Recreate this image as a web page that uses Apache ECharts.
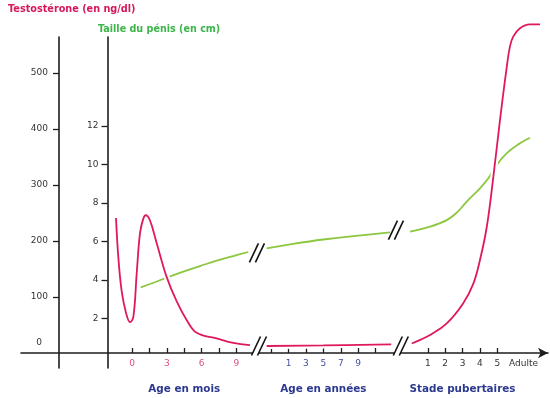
<!DOCTYPE html>
<html><head><meta charset="utf-8">
<script src="https://cdn.jsdelivr.net/npm/echarts@6/dist/echarts.min.js"></script>
<style>html,body{margin:0;padding:0;background:#fff}#c{width:550px;height:398px}</style>
</head><body><div id="c"></div>
<script>
// ---- axis content (x positions are in tick steps along the broken x axis) ----
const monthLabels = ['0', '3', '6', '9'];
const monthPos = [0, 2, 4, 6];
const yearLabels = ['1', '3', '5', '7', '9'];
const yearPos = [9, 10, 11, 12, 13];
const stageLabels = ['1', '2', '3', '4', '5', 'Adulte'];
const stagePos = [17, 18, 19, 20, 21, 22.5];
const tickPos = [0, 1, 2, 3, 4, 5, 6, 8, 9, 10, 11, 12, 13, 14, 17, 18, 19, 20, 21];
const segmentTitles = ['Age en mois', 'Age en années', 'Stade pubertaires'];
const segmentTitlePos = [3, 11, 19];
const testoTicks = [0, 100, 200, 300, 400, 500];
const penisTicks = [2, 4, 6, 8, 10, 12];
const testoTitle = 'Testostérone (en ng/dl)';
const penisTitle = 'Taille du pénis (en cm)';

// ---- series (null = break in the curve) ----
const testoX = [-0.92, -0.79, -0.6, -0.34, -0.11, 0.08, 0.27, 0.46, 0.65, 0.79, 1.03, 1.42, 1.99, 2.57, 3.14, 3.72, 4.87, 5.82, 6.78,
  null, 7.74, 11, 14.9,
  null, 16.08, 16.6, 17.13, 18.09, 19.04, 19.62, 20.0, 20.39, 20.77, 21.15, 21.54, 21.72, 21.91, 22.3, 22.87, 23.45];
const testoY = [241, 173, 112, 71, 55, 65, 142, 214, 240, 246, 237, 196, 136, 92, 59, 36, 26, 18, 14,
  null, 12.5, 13.5, 15.5,
  null, 17, 24, 32, 53, 89, 124, 166, 225, 315, 416, 511, 547, 565, 580, 587, 587];
const penisX = [0.5, 1.23, 2.0, 2.95, 3.91, 4.87, 5.82, 6.68,
  null, 7.74, 8.5, 11, 14.83,
  null, 15.98, 17.13, 18.09, 18.66, 19.24, 20.0, 20.48, 20.96, 21.53, 22.3, 22.87];
const penisY = [3.61, 3.85, 4.12, 4.43, 4.72, 5.0, 5.24, 5.45,
  null, 5.64, 5.76, 6.1, 6.47,
  null, 6.51, 6.77, 7.11, 7.49, 8.07, 8.76, 9.28, 9.97, 10.58, 11.1, 11.39];
// axis-break marks
const breakAxisX = [7.3, 15.45];
const breakAxisY = [12.5, 12.5];
const breakPenisX = [7.18, 15.17];
const breakPenisY = [5.4, 6.59];

function segments(xs, ys) {
  const out = []; let cur = [];
  xs.forEach((x, i) => {
    if (x === null) { out.push(cur); cur = []; } else cur.push([x, ys[i]]);
  });
  out.push(cur); return out;
}

const labelMap = {};
monthPos.forEach((p, i) => labelMap[p] = '{m|' + monthLabels[i] + '}');
yearPos.forEach((p, i) => labelMap[p] = '{y|' + yearLabels[i] + '}');
stagePos.forEach((p, i) => labelMap[p] = '{s|' + stageLabels[i] + '}');
const allLabelPos = monthPos.concat(yearPos, stagePos);

const RED = '#e0195f', GREEN = '#8dc63f', AX = '#1e1e1e';
const FONT = 'DejaVu Sans';
const XMIN = -6.38, XMAX = 23.91;
const T_MAX = 564.29, T_MIN_EXT = -26.79;
const P_MAX = 16.63, P_MIN = 0.198, P_MIN_EXT = -0.58;

function renderBreak(params, api) {
  const c = api.coord([api.value(0), api.value(1)]);
  const h = 19, w = 9, g = 6, cx = c[0], cy = c[1];
  const a1 = [cx - g / 2 - w / 2, cy + h / 2], b1 = [cx - g / 2 + w / 2, cy - h / 2];
  const a2 = [cx + g / 2 - w / 2, cy + h / 2], b2 = [cx + g / 2 + w / 2, cy - h / 2];
  const st = { stroke: '#111', lineWidth: 1.6 };
  return { type: 'group', children: [
    { type: 'polygon', shape: { points: [a1, b1, b2, a2] }, style: { fill: '#fff' } },
    { type: 'line', shape: { x1: a1[0], y1: a1[1], x2: b1[0], y2: b1[1] }, style: st },
    { type: 'line', shape: { x1: a2[0], y1: a2[1], x2: b2[0], y2: b2[1] }, style: st }
  ] };
}

const series = [];
segments(penisX, penisY).forEach(d => series.push({
  type: 'line', xAxisIndex: 0, yAxisIndex: 1, data: d, smooth: 0.4, showSymbol: false, clip: false,
  lineStyle: { color: GREEN, width: 1.8 }, z: 2, silent: true
}));
segments(testoX, testoY).forEach(d => {
  series.push({ type: 'line', xAxisIndex: 0, yAxisIndex: 0, data: d, smooth: 0.4, showSymbol: false, clip: false,
    lineStyle: { color: '#fff', width: 6 }, z: 3, silent: true });
  series.push({ type: 'line', xAxisIndex: 0, yAxisIndex: 0, data: d, smooth: 0.4, showSymbol: false, clip: false,
    lineStyle: { color: RED, width: 1.8 }, z: 4, silent: true });
});
series.push({ type: 'custom', xAxisIndex: 0, yAxisIndex: 0, renderItem: renderBreak, clip: false, z: 6,
  data: breakAxisX.map((x, i) => [x, breakAxisY[i]]), encode: { x: 0, y: 1 } });
series.push({ type: 'custom', xAxisIndex: 0, yAxisIndex: 1, renderItem: renderBreak, clip: false, z: 6,
  data: breakPenisX.map((x, i) => [x, breakPenisY[i]]), encode: { x: 0, y: 1 } });

const hiddenX = gi => ({ type: 'value', gridIndex: gi, min: 0, max: 1, show: false, axisLine: { onZero: false } });

const chart = echarts.init(document.getElementById('c'), null, { renderer: 'canvas' });
chart.setOption({
  animation: false,
  backgroundColor: '#fff',
  grid: [
    { left: 21, right: 2, top: 37, bottom: 45, containLabel: false, outerBoundsMode: 'none' },   // data + x axis
    { left: 59, right: 2, top: 37, bottom: 30, containLabel: false, outerBoundsMode: 'none' },   // testosterone axis
    { left: 107.5, right: 2, top: 37, bottom: 30, containLabel: false, outerBoundsMode: 'none' } // penis axis
  ],
  xAxis: [
    { type: 'value', gridIndex: 0, min: XMIN, max: XMAX, position: 'bottom',
      axisLine: { show: true, onZero: false, lineStyle: { color: AX, width: 1.6 },
        symbol: ['none', 'arrow'], symbolSize: [8, 10] },
      axisTick: { show: true, inside: true, length: 5, customValues: tickPos, lineStyle: { color: AX, width: 1.3 } },
      axisLabel: { show: true, margin: 6, customValues: allLabelPos, formatter: v => labelMap[v] || '',
        fontFamily: FONT, fontSize: 9,
        rich: { m: { color: '#e0507f', fontFamily: FONT, fontSize: 9 },
                y: { color: '#3f51a3', fontFamily: FONT, fontSize: 9 },
                s: { color: '#333', fontFamily: FONT, fontSize: 9 } } },
      splitLine: { show: false } },
    { type: 'value', gridIndex: 0, min: XMIN, max: XMAX, position: 'bottom',
      axisLine: { show: false, onZero: false }, axisTick: { show: false }, splitLine: { show: false },
      axisLabel: { show: true, margin: 31, customValues: segmentTitlePos,
        formatter: v => segmentTitles[segmentTitlePos.indexOf(v)] || '',
        color: '#2b3990', fontWeight: 'bold', fontFamily: FONT, fontSize: 10.4 } },
    hiddenX(1),
    hiddenX(2)
  ],
  yAxis: [
    // data scales in the main grid (hidden)
    { type: 'value', gridIndex: 0, min: 0, max: T_MAX, show: false, splitLine: { show: false } },
    { type: 'value', gridIndex: 0, min: P_MIN, max: P_MAX, show: false, splitLine: { show: false } },
    // visible testosterone axis
    { type: 'value', gridIndex: 1, min: T_MIN_EXT, max: T_MAX, position: 'left',
      axisLine: { show: true, onZero: false, lineStyle: { color: AX, width: 1.6 } },
      axisTick: { show: true, length: 6, customValues: testoTicks.slice(1), lineStyle: { color: AX, width: 1.3 } },
      axisLabel: { show: true, margin: 11, customValues: testoTicks,
        formatter: v => v === 0 ? '{z|0}' : String(v),
        color: '#333', fontFamily: FONT, fontSize: 9,
        rich: { z: { color: '#333', fontFamily: FONT, fontSize: 9, padding: [0, 6, 20, 0] } } },
      splitLine: { show: false } },
    // visible penis-size axis
    { type: 'value', gridIndex: 2, min: P_MIN_EXT, max: P_MAX, position: 'left',
      axisLine: { show: true, onZero: false, lineStyle: { color: AX, width: 1.6 } },
      axisTick: { show: true, length: 6, customValues: penisTicks, lineStyle: { color: AX, width: 1.3 } },
      axisLabel: { show: true, margin: 9, customValues: penisTicks, color: '#333', fontFamily: FONT, fontSize: 9 },
      splitLine: { show: false } }
  ],
  graphic: [
    { type: 'text', left: 8, top: 4, style: { text: testoTitle, fill: '#d6175c', font: 'bold 9.7px "DejaVu Sans"' } },
    { type: 'text', left: 98, top: 24, style: { text: penisTitle, fill: '#3cb54a', font: 'bold 9.6px "DejaVu Sans"' } }
  ],
  series: series
});
</script>
</body></html>
